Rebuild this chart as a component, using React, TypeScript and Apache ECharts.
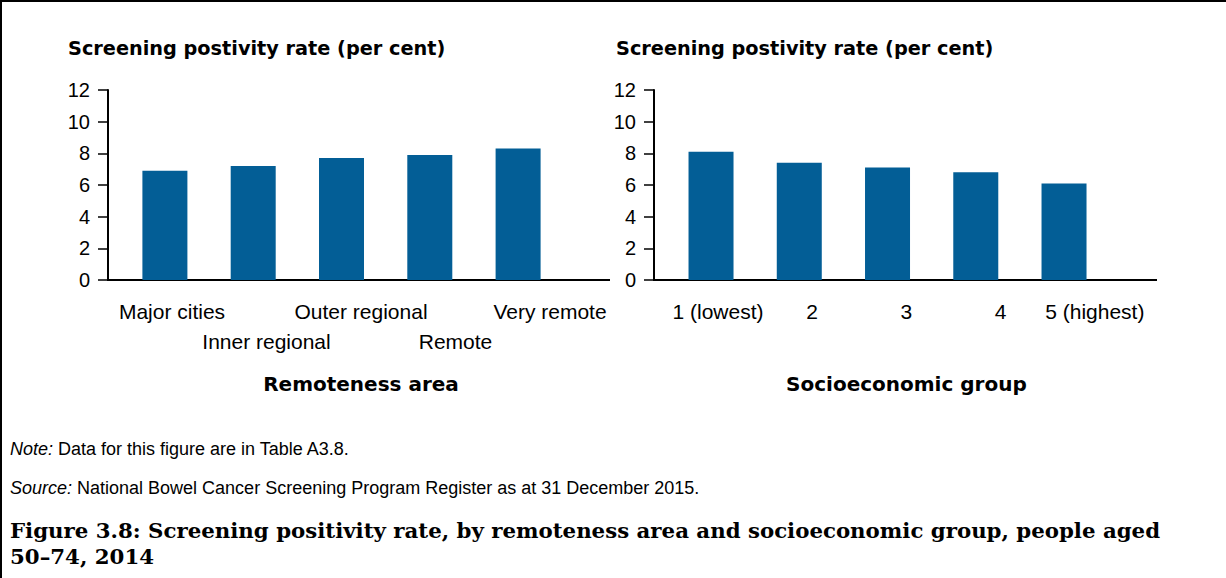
import React, { useEffect, useRef } from "react";
import * as echarts from "echarts";

const remotenessCategories = ["Major cities", "Inner regional", "Outer regional", "Remote", "Very remote"];
const remotenessValues = [6.9, 7.2, 7.7, 7.9, 8.3];
const socioCategories = ["1 (lowest)", "2", "3", "4", "5 (highest)"];
const socioValues = [8.1, 7.4, 7.1, 6.8, 6.1];
const yMin = 0;
const yMax = 12;
const yInterval = 2;

const panelTitle = "Screening postivity rate (per cent)";
const leftAxisName = "Remoteness area";
const rightAxisName = "Socioeconomic group";
const noteText = "Data for this figure are in Table A3.8.";
const sourceText = "National Bowel Cancer Screening Program Register as at 31 December 2015.";
const captionLine1 = "Figure 3.8: Screening positivity rate, by remoteness area and socioeconomic group, people aged";
const captionLine2 = "50–74, 2014";

const BAR_COLOR = "#035e96";
const SANS = "'Liberation Sans', Arial, sans-serif";
const BOLD_SANS = "'DejaVu Sans', sans-serif";
const SERIF = "'DejaVu Serif', serif";

export default function App() {
  const ref = useRef<HTMLDivElement>(null);

  useEffect(() => {
    if (!ref.current) return;
    const chart = echarts.init(ref.current, undefined, { renderer: "svg" });

    const valueAxis = (gridIndex: number, offset: number) => ({
      type: "value",
      gridIndex,
      min: yMin,
      max: yMax,
      interval: yInterval,
      offset,
      axisLine: { show: true, lineStyle: { color: "#000", width: 2 } },
      axisTick: { show: true, length: 10, lineStyle: { color: "#000", width: 1.5 } },
      axisLabel: { fontSize: 20, fontFamily: SANS, color: "#000", margin: 18 },
      splitLine: { show: false },
    });

    const hiddenValueAxis = (gridIndex: number) => ({
      type: "value",
      gridIndex,
      min: yMin,
      max: yMax,
      show: false,
    });

    const barAxis = (gridIndex: number, data: string[]) => ({
      type: "category",
      gridIndex,
      data,
      axisLine: { show: true, lineStyle: { color: "#000", width: 2 } },
      axisTick: { show: false },
      axisLabel: { show: false },
    });

    const labelAxis = (gridIndex: number, data: string[], name: string, stagger: boolean) => ({
      type: "category",
      gridIndex,
      data,
      axisLine: { show: false },
      axisTick: { show: false },
      axisLabel: {
        interval: 0,
        fontSize: 21,
        lineHeight: 30,
        fontFamily: SANS,
        color: "#000",
        margin: 16,
        formatter: (v: string, i: number) => (stagger && i % 2 === 1 ? "\n" + v : v),
      },
      name,
      nameLocation: "middle",
      nameGap: 94,
      nameTextStyle: { fontFamily: BOLD_SANS, fontWeight: "bold", fontSize: 20, color: "#000" },
    });

    const line = (x1: number, y1: number, x2: number, y2: number, w: number) => ({
      type: "line",
      shape: { x1, y1, x2, y2 },
      style: { stroke: "#000", lineWidth: w },
      silent: true,
    });

    const text = (x: number, y: number, t: string, extra: any = {}) => ({
      type: "text",
      x,
      y,
      style: { text: t, fill: "#000", verticalAlign: "middle", align: "left", ...extra },
      silent: true,
    });

    chart.setOption({
      animation: false,
      grid: [
        { left: 120.75, top: 90, width: 441.5, height: 190 },
        { left: 666.9, top: 90, width: 441.25, height: 190 },
        { left: 124.75, top: 90, width: 472.5, height: 190 },
        { left: 670.9, top: 90, width: 471, height: 190 },
      ],
      xAxis: [
        barAxis(0, remotenessCategories),
        barAxis(1, socioCategories),
        labelAxis(2, remotenessCategories, leftAxisName, true),
        labelAxis(3, socioCategories, rightAxisName, false),
      ],
      yAxis: [valueAxis(0, 12.75), valueAxis(1, 12.9), hiddenValueAxis(2), hiddenValueAxis(3)],
      series: [
        {
          type: "bar",
          xAxisIndex: 0,
          yAxisIndex: 0,
          data: remotenessValues,
          barWidth: 45,
          itemStyle: { color: BAR_COLOR },
        },
        {
          type: "bar",
          xAxisIndex: 1,
          yAxisIndex: 1,
          data: socioValues,
          barWidth: 45,
          itemStyle: { color: BAR_COLOR },
        },
      ],
      graphic: [
        line(0, 1, 1226, 1, 2),
        line(1, 0, 1, 578, 2),
        line(107, 280, 610, 280, 2),
        line(653, 280, 1157, 280, 2),
        text(68, 48, panelTitle, { fontFamily: BOLD_SANS, fontWeight: "bold", fontSize: 19.3 }),
        text(616, 48, panelTitle, { fontFamily: BOLD_SANS, fontWeight: "bold", fontSize: 19.3 }),
        text(10, 449, "{i|Note:} " + noteText, {
          fontFamily: SANS,
          fontSize: 18,
          rich: { i: { fontStyle: "italic", fontFamily: SANS, fontSize: 18 } },
        }),
        text(10, 488, "{i|Source:} " + sourceText, {
          fontFamily: SANS,
          fontSize: 18,
          rich: { i: { fontStyle: "italic", fontFamily: SANS, fontSize: 18 } },
        }),
        text(10, 530, captionLine1, { fontFamily: SERIF, fontWeight: "bold", fontSize: 21.3 }),
        text(10, 556, captionLine2, { fontFamily: SERIF, fontWeight: "bold", fontSize: 21.3 }),
      ],
    });

    return () => chart.dispose();
  }, []);

  return (
    <div
      ref={ref}
      style={{ position: "fixed", left: 0, top: 0, width: 1226, height: 578, background: "#fff" }}
    />
  );
}
